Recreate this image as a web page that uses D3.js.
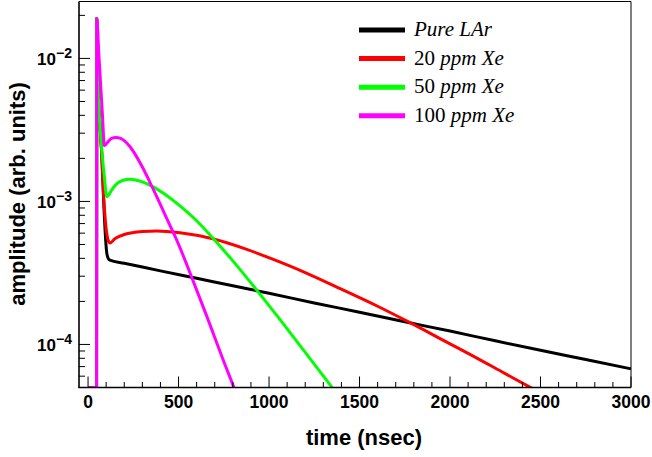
<!DOCTYPE html>
<html>
<head>
<meta charset="utf-8">
<script src="https://cdn.jsdelivr.net/npm/d3@7"></script>
<style>
  body { margin: 0; background: #fff; }
  .tick-label { font-family: "Liberation Sans", Arial, sans-serif; font-weight: bold; }
  .axis-title { font-family: "Liberation Sans", Arial, sans-serif; font-weight: bold; font-size: 22px; }
  .legend-text { font-family: "Liberation Serif", "Times New Roman", serif; font-size: 21px; }
</style>
</head>
<body>
<div id="chart-area"></div>
<script>
// time (nsec) vs amplitude
const pureLAr = [[0,0],[47,0],[48,0.019],[53,0.0103],[57,5.4e-3],[66,3.4e-3],[76,2.1e-3],[85,1.1e-3],[95,6.0e-4],[103,4.4e-4],[112,3.98e-4],[121,3.88e-4],
  [200,3.7e-4],[400,3.27e-4],[600,2.9e-4],[800,2.57e-4],[1000,2.28e-4],[1250,1.95e-4],[1500,1.68e-4],[1750,1.44e-4],[2000,1.24e-4],[2250,1.06e-4],[2500,9.1e-5],[2750,7.85e-5],[3000,6.75e-5]];
const xe20 = [[0,0],[47,0],[48,0.019],[53,0.0103],[57,5.4e-3],[66,3.4e-3],[76,2.1e-3],[85,1.15e-3],[95,7.5e-4],[105,5.8e-4],[115,5.2e-4],[121,5.13e-4],
  [150,5.5e-4],[200,5.87e-4],[300,6.17e-4],[380,6.22e-4],[508,6.03e-4],[683,5.5e-4],[877,4.62e-4],[1006,4.01e-4],[1200,3.18e-4],[1374,2.52e-4],[1600,1.85e-4],[1779,1.42e-4],[2000,1.01e-4],[2110,8.53e-5],[2300,6.3e-5],[2451,4.95e-5],[2500,4.57e-5]];
const xe50 = [[0,0],[47,0],[48,0.019],[53,0.0103],[57,5.4e-3],[66,3.4e-3],[76,2.28e-3],[90,1.5e-3],[103,1.08e-3],[112,1.1e-3],[125,1.17e-3],[150,1.3e-3],[190,1.4e-3],[232,1.43e-3],
  [300,1.37e-3],[352,1.28e-3],[400,1.18e-3],[508,9.31e-4],[600,7.33e-4],[683,5.67e-4],[800,3.84e-4],[932,2.4e-4],[1000,1.87e-4],[1061,1.49e-4],[1200,8.8e-5],[1346,5.05e-5],[1400,4.12e-5]];
const xe100 = [[0,0],[47,0],[48,0.019],[60,0.0105],[70,6.4e-3],[80,3.93e-3],[90,2.45e-3],[110,2.61e-3],[130,2.76e-3],[153,2.8e-3],[180,2.76e-3],[200,2.66e-3],[232,2.41e-3],
  [300,1.74e-3],[352,1.28e-3],[400,9.5e-4],[450,6.9e-4],[490,5.37e-4],[582,2.75e-4],[650,1.65e-4],[700,1.12e-4],[750,7.6e-5],[807,4.95e-5],[830,4.1e-5]];

const seriesNames = ["Pure LAr", "20", "50", "100"];
const seriesColors = ["#000000", "#ff0000", "#00ff00", "#ff00ff"];
const seriesData = [pureLAr, xe20, xe50, xe100];

const xTicksMajor = [0, 500, 1000, 1500, 2000, 2500, 3000];
const yTicksMajor = [1e-4, 1e-3, 1e-2];
const yExponents = ["\u22124", "\u22123", "\u22122"];

const WIDTH = 652;
const HEIGHT = 457;
const LEFT = 79, RIGHT = 631, TOP = 1.5, BOTTOM = 387.5;
const Y_MIN = 5e-5, Y_MAX = 0.025;

let svg = d3.select("#chart-area").append("svg")
    .attr("width", WIDTH)
    .attr("height", HEIGHT);

let x = d3.scaleLinear().domain([-50, 3000]).range([LEFT, RIGHT]);
let y = d3.scaleLog().domain([Y_MIN, Y_MAX]).range([BOTTOM, TOP]);

svg.append("clipPath").attr("id", "plot-clip")
    .append("rect")
    .attr("x", LEFT).attr("y", TOP - 1)
    .attr("width", RIGHT - LEFT).attr("height", BOTTOM - TOP + 1);

// curves (zero values sit on the bottom edge like ROOT does)
let line = d3.line()
    .x(d => x(d[0]))
    .y(d => y(d[1] > 0 ? d[1] : Y_MIN))
    .curve(d3.curveMonotoneX);

let curves = svg.append("g").attr("clip-path", "url(#plot-clip)");
seriesData.forEach((s, i) => {
    curves.append("path")
        .datum(s)
        .attr("d", line)
        .attr("fill", "none")
        .attr("stroke", seriesColors[i])
        .attr("stroke-width", 3)
        .attr("stroke-linejoin", "round");
});

// frame
svg.append("line").attr("x1", LEFT).attr("x2", RIGHT).attr("y1", TOP).attr("y2", TOP)
    .attr("stroke", "#000").attr("stroke-width", 1);
svg.append("line").attr("x1", RIGHT).attr("x2", RIGHT).attr("y1", TOP).attr("y2", BOTTOM)
    .attr("stroke", "#000").attr("stroke-width", 1);
svg.append("line").attr("x1", LEFT).attr("x2", LEFT).attr("y1", TOP).attr("y2", BOTTOM + 0.5)
    .attr("stroke", "#000").attr("stroke-width", 1.6);
svg.append("line").attr("x1", LEFT - 0.5).attr("x2", RIGHT).attr("y1", BOTTOM).attr("y2", BOTTOM)
    .attr("stroke", "#000").attr("stroke-width", 1.6);

// x ticks, every 100 with major every 500
let xTicks = d3.range(0, 3001, 100);
svg.selectAll(".xtick").data(xTicks).enter().append("line")
    .attr("class", "xtick")
    .attr("x1", d => x(d)).attr("x2", d => x(d))
    .attr("y1", BOTTOM)
    .attr("y2", d => BOTTOM - (d % 500 === 0 ? 11 : 5.5))
    .attr("stroke", "#000").attr("stroke-width", 1);

svg.selectAll(".xlabel").data(xTicksMajor).enter().append("text")
    .attr("class", "tick-label")
    .attr("x", d => x(d))
    .attr("y", 408)
    .attr("text-anchor", "middle")
    .style("font-size", "17.5px")
    .text(d => d);

// y ticks, log minor ticks
let yTicks = [];
[1e-5, 1e-4, 1e-3, 1e-2].forEach(dec => {
    for (let k = 1; k <= 9; k++) {
        let v = dec * k;
        if (v >= Y_MIN * 0.999 && v <= Y_MAX) yTicks.push({v: v, major: k === 1});
    }
});
svg.selectAll(".ytick").data(yTicks).enter().append("line")
    .attr("class", "ytick")
    .attr("x1", LEFT)
    .attr("x2", d => LEFT + (d.major ? 11 : 6))
    .attr("y1", d => y(d.v)).attr("y2", d => y(d.v))
    .attr("stroke", "#000").attr("stroke-width", 1);

let ylab = svg.selectAll(".ylabel").data(yTicksMajor).enter().append("text")
    .attr("class", "tick-label")
    .attr("x", 72)
    .attr("y", d => y(d) + 7)
    .attr("text-anchor", "end")
    .style("font-size", "17px");
ylab.append("tspan").text("10");
ylab.append("tspan")
    .attr("dy", -7.5)
    .style("font-size", "14px")
    .text((d, i) => yExponents[i]);

// axis titles
svg.append("text")
    .attr("class", "axis-title")
    .attr("x", 364)
    .attr("y", 445)
    .attr("text-anchor", "middle")
    .text("time (nsec)");

svg.append("text")
    .attr("class", "axis-title")
    .attr("transform", "translate(25,194) rotate(-90)")
    .attr("text-anchor", "middle")
    .text("amplitude (arb. units)");

// legend
const LEG_Y0 = 30, LEG_DY = 28.6;
seriesNames.forEach((name, i) => {
    let cy = LEG_Y0 + i * LEG_DY;
    svg.append("line")
        .attr("x1", 359).attr("x2", 405)
        .attr("y1", cy).attr("y2", cy)
        .attr("stroke", seriesColors[i])
        .attr("stroke-width", 5);
    let t = svg.append("text")
        .attr("class", "legend-text")
        .attr("x", 414)
        .attr("y", cy + 6);
    if (i === 0) {
        t.append("tspan").style("font-style", "italic").text(name);
    } else {
        t.append("tspan").text(name + " ");
        t.append("tspan").style("font-style", "italic").text("ppm Xe");
    }
});
</script>
</body>
</html>
